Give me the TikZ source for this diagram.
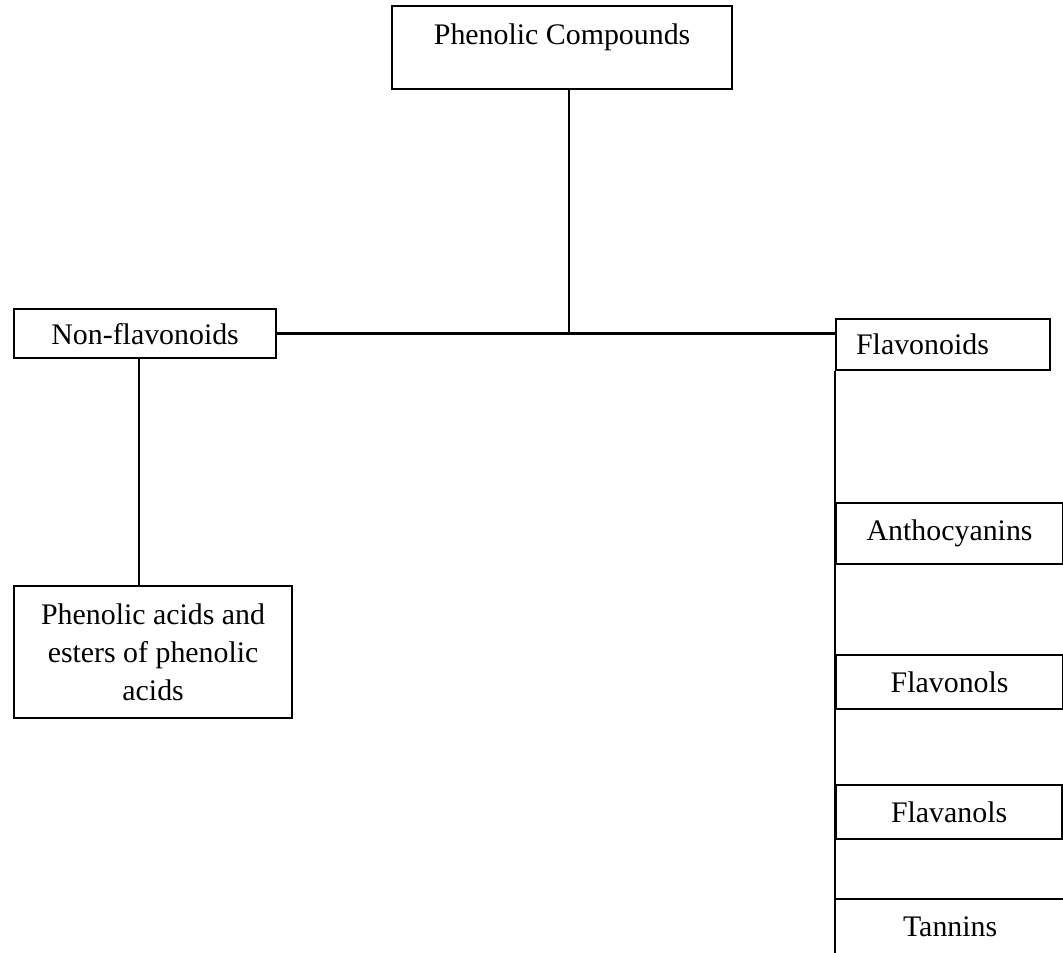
\documentclass[tikz,border=0pt]{standalone}
\usepackage{fontspec}
\setmainfont{Liberation Serif}
\usetikzlibrary{calc}

\begin{document}
\begin{tikzpicture}[x=0.02cm, y=-0.02cm, line width=1.3pt,
  box/.style={draw, rectangle, anchor=north west, inner sep=0, align=center, font=\fontsize{17}{21.6}\selectfont}]
\useasboundingbox (0,0) rectangle (1063,953);
% top
\node[box, minimum width=6.8cm, text height=0.76cm, text depth=0.9cm] (phenolic) at (391,5) {Phenolic Compounds};
% left branch
\node[box, minimum width=5.24cm, minimum height=0.98cm] (nonflav) at (13,308) {Non-flavonoids};
\node[box, minimum width=5.56cm, minimum height=2.64cm] (acids) at (13,585) {Phenolic acids and\\ esters of phenolic\\ acids};
% right branch
\node[box, minimum width=4.28cm, minimum height=1.02cm, inner xsep=0.4cm, text width=3.48cm, align=left] (flav) at (835,318) {Flavonoids};
\node[box, minimum width=4.54cm, minimum height=1.22cm] (antho) at (835,502) {Anthocyanins};
\node[box, minimum width=4.54cm, minimum height=1.08cm] (flavonols) at (835,654) {Flavonols};
\node[box, minimum width=4.52cm, minimum height=1.08cm] (flavanols) at (835,784) {Flavanols};
\node[box, draw=none, minimum width=4.56cm, minimum height=1.08cm] (tannins) at (835,899) {Tannins};
\coordinate (hub) at (569,332);
\coordinate (bottom) at (835,953);
% connectors
\draw (hub |- phenolic.south) -- (hub);
\draw (nonflav.east) -- (nonflav.east -| flav.west);
\draw (nonflav.south -| 139,0) -- (acids.north -| 139,0);
\draw (flav.south west) -- (bottom);
\draw (tannins.north west) -- (tannins.north east);
\end{tikzpicture}
\end{document}
